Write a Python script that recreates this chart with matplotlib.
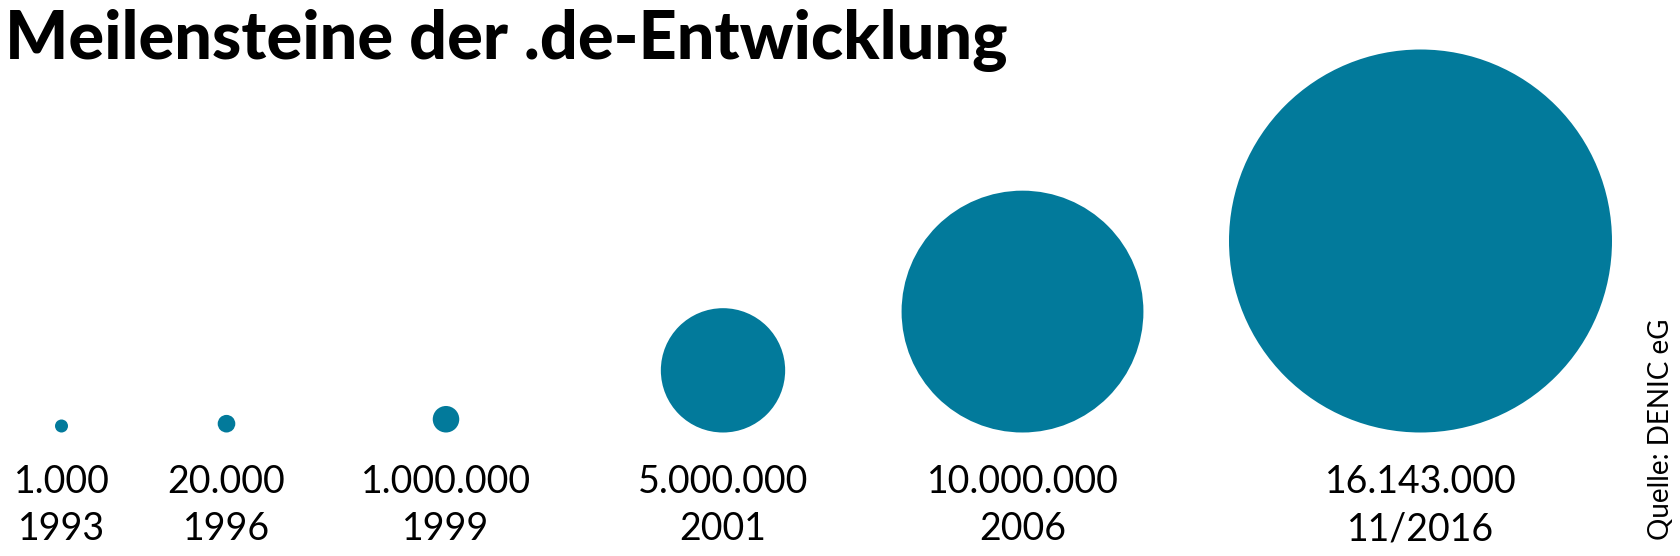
import numpy as np
import matplotlib
matplotlib.use("Agg")
import matplotlib.pyplot as plt
from matplotlib.patches import Circle

# --- data ---
periods = ["1993", "1996", "1999", "2001", "2006", "11/2016"]
domains = [1000, 20000, 1000000, 5000000, 10000000, 16143000]
value_labels = ["1.000", "20.000", "1.000.000", "5.000.000", "10.000.000", "16.143.000"]
title = "Meilensteine der .de-Entwicklung"
source = "Quelle: DENIC eG"

# --- layout (in figure pixel units) ---
W, H = 1680, 556
slot_x = [61.5, 226.5, 446, 723, 1022.5, 1420.5]
baseline = 432.5
r_max = 191.5
color = "#027a9b"

fig = plt.figure(figsize=(W / 100, H / 100), dpi=100)
ax = fig.add_axes([0, 0, 1, 1])
ax.set_xlim(0, W)
ax.set_ylim(H, 0)
ax.set_aspect("equal")
ax.axis("off")

vmax = max(domains)
for x, v, lab, per in zip(slot_x, domains, value_labels, periods):
    r = max(r_max * (v / vmax) ** 0.96, 6.5 + 1.77 * np.log10(v / 1000))
    ax.add_patch(Circle((x, baseline - r), r, facecolor=color, edgecolor="none"))
    ax.text(x, 482, lab, ha="center", va="center", fontsize=27,
            family="Lato", color="black")
    ax.text(x, 529, per, ha="center", va="center", fontsize=27,
            family="Lato", color="black")

ax.text(5, 40, title, ha="left", va="center", fontsize=48,
        family="Lato", fontweight="black", color="black")
ax.text(1661, 540, source, ha="center", va="bottom", rotation=90,
        fontsize=20, family="Lato", color="black")

fig.savefig("out.png", dpi=100)
